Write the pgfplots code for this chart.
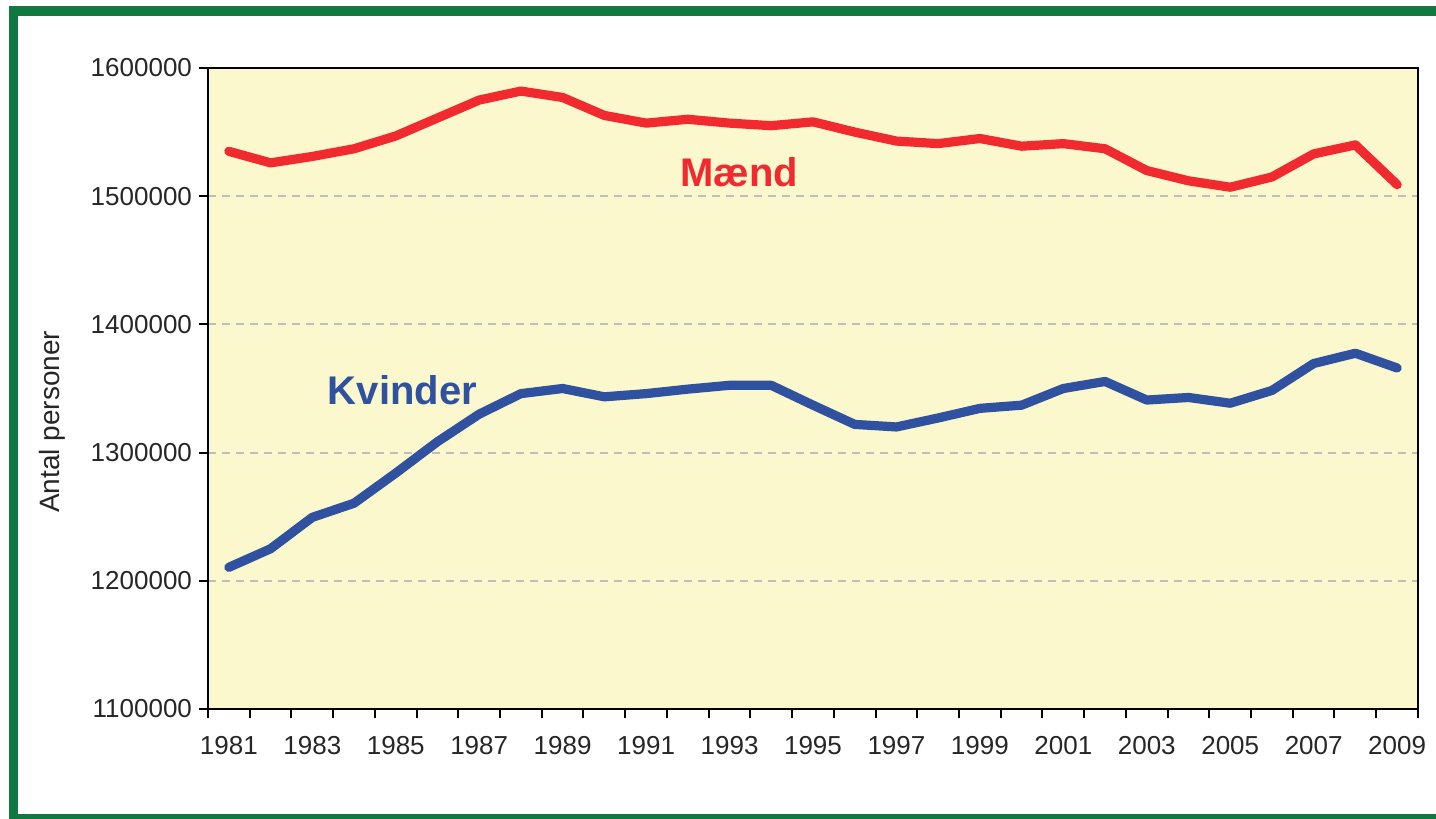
\documentclass[border=0pt]{standalone}
\usepackage{pgfplots}
\pgfplotsset{compat=1.18}
\usepackage{fontspec}
\setmainfont{Liberation Sans}

\definecolor{rammegron}{RGB}{18,120,66}
\definecolor{plotgul}{RGB}{250,248,204}
\definecolor{maend}{RGB}{240,42,46}
\definecolor{kvinder}{RGB}{48,80,160}
\definecolor{gitter}{RGB}{190,190,190}

\begin{document}
\begin{tikzpicture}
    % side og gron ramme (skaaret af i hojre side)
    \useasboundingbox (0,0) rectangle (718pt,409.5pt);
    \draw[rammegron, line width=4.6pt] (6.9pt,0pt) rectangle (740pt,404pt);

    \begin{axis}[
        at={(104pt,55pt)}, anchor=south west,
        scale only axis,
        width=605pt, height=320.5pt,
        xmin=1980.5, xmax=2009.5,
        ymin=1100000, ymax=1600000,
        axis background/.style={fill=plotgul},
        axis line style={black, line width=1pt},
        tick align=outside,
        tick pos=left,
        major tick length=4.5pt,
        tick style={black, line width=1pt},
        xtick={1980.5,1981.5,...,2009.5},
        xticklabels={},
        extra x ticks={1981,1983,...,2009},
        extra x tick labels={1981,1983,1985,1987,1989,1991,1993,1995,1997,1999,2001,2003,2005,2007,2009},
        extra x tick style={major tick length=0pt, xticklabel style={yshift=-10pt}},
        ytick={1100000,1200000,...,1600000},
        scaled y ticks=false,
        yticklabel style={/pgf/number format/1000 sep={}, /pgf/number format/fixed},
        /pgf/number format/assume math mode=true,
        ticklabel style={font=\fontsize{13}{15}\selectfont, text=black!85},
        ymajorgrids,
        major grid style={gitter, line width=1pt, dash pattern=on 4pt off 3pt},
        ylabel={Antal personer},
        ylabel style={at={(axis description cs:-0.129,0.448)}, anchor=center,
                      font=\fontsize{14}{16}\selectfont, text=black!85},
    ]

    % Maend
    \addplot[maend, line width=4.6pt, line join=round, line cap=round] coordinates {
        (1981,1535000) (1982,1526000) (1983,1531000) (1984,1537000) (1985,1547000)
        (1986,1561000) (1987,1575000) (1988,1582000) (1989,1577000) (1990,1563000)
        (1991,1557000) (1992,1560000) (1993,1557000) (1994,1555000) (1995,1558000)
        (1996,1550000) (1997,1543000) (1998,1541000) (1999,1545000) (2000,1539000)
        (2001,1541000) (2002,1537000) (2003,1520000) (2004,1512000) (2005,1507000)
        (2006,1515000) (2007,1533000) (2008,1540000) (2009,1509000)
    };

    % Kvinder
    \addplot[kvinder, line width=4.6pt, line join=round, line cap=round] coordinates {
        (1981,1210500) (1982,1225000) (1983,1249500) (1984,1260500) (1985,1284000)
        (1986,1308500) (1987,1330000) (1988,1346000) (1989,1350000) (1990,1343500)
        (1991,1346000) (1992,1349500) (1993,1352500) (1994,1352500) (1995,1337000)
        (1996,1322000) (1997,1320000) (1998,1327000) (1999,1334500) (2000,1337000)
        (2001,1350000) (2002,1355500) (2003,1341000) (2004,1343000) (2005,1338500)
        (2006,1348500) (2007,1369500) (2008,1377500) (2009,1366000)
    };

    \node[text=maend, font=\bfseries\fontsize{20}{24}\selectfont]
        at (axis cs:1993.23,1518900) {Mænd};
    \node[text=kvinder, font=\bfseries\fontsize{20}{24}\selectfont]
        at (axis cs:1985.16,1348800) {Kvinder};

    \end{axis}
\end{tikzpicture}
\end{document}
